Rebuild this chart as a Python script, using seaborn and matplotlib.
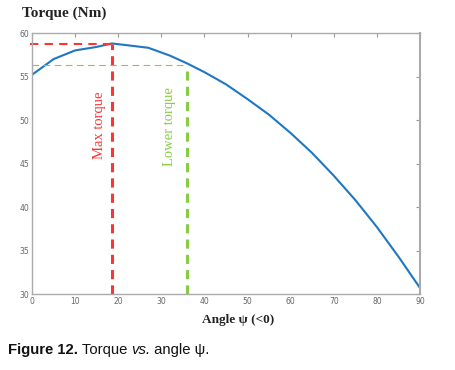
import matplotlib
matplotlib.use("Agg")
import matplotlib.pyplot as plt
import seaborn as sns
import pandas as pd

angle = [0, 5, 10, 15, 18.5, 22, 27, 32, 36, 40, 45, 50, 55, 60, 65, 70, 75, 80, 85, 90]
torque = [55.2, 57.0, 58.0, 58.4, 58.8, 58.6, 58.3, 57.4, 56.5, 55.5, 54.1, 52.4, 50.6, 48.5, 46.2, 43.6, 40.8, 37.7, 34.3, 30.7]
max_angle, max_torque = 18.5, 58.7
low_angle, low_torque = 36, 56.3
xticks = [0, 10, 20, 30, 40, 50, 60, 70, 80, 90]
yticks = [30, 35, 40, 45, 50, 55, 60]

sns.set_theme(style="white")
df = pd.DataFrame({"angle": angle, "torque": torque})

fig = plt.figure(figsize=(4.56, 3.70), dpi=100)
ax = fig.add_axes([0.0702, 0.2054, 0.8508, 0.7054])
sns.lineplot(data=df, x="angle", y="torque", ax=ax, color="#1f77c4", linewidth=1.5)

ax.set_xlim(0, 90)
ax.set_ylim(30, 60)
ax.set_xticks(xticks)
ax.set_yticks(yticks)
ax.tick_params(direction="in", length=3, width=0.8, color="#999999",
               labelsize=5.5, labelcolor="#666666", top=True, right=True, pad=2)
for s in ax.spines.values():
    s.set_color("#aaaaaa")
    s.set_linewidth(1.0)
ax.spines["right"].set_linewidth(1.5)
ax.set_xlabel("")
ax.set_ylabel("")

# Max torque markers
ax.plot([max_angle, max_angle], [30, max_torque], color="#ff3333", ls=(0, (3, 2)), lw=2.2, clip_on=False)
ax.plot([-0.5, max_angle], [max_torque, max_torque], color="#ff3333", ls=(0, (4, 3)), lw=1.5, clip_on=False)
# Lower torque markers
ax.plot([low_angle, low_angle], [30, low_torque], color="#88cc44", ls=(0, (3, 2)), lw=2.2)
ax.plot([0, low_angle], [low_torque, low_torque], color="#88cc44", ls=(0, (6, 4)), lw=0.8)

ax.text(15.6, 49.4, "Max torque", rotation=90, color="#ff3333", fontsize=10.5,
        family="Liberation Serif", ha="center", va="center")
ax.text(31.9, 49.2, "Lower torque", rotation=90, color="#88cc44", fontsize=10.5,
        family="Liberation Serif", ha="center", va="center")

fig.text(22 / 456, 1 - 13 / 370, "Torque (Nm)", family="Liberation Serif", fontsize=11,
         fontweight="bold", ha="left", va="center", color="#222222")
fig.text(238 / 456, 1 - 320 / 370, "Angle ψ (<0)", family="Liberation Serif", fontsize=9.5,
         fontweight="bold", ha="center", va="center", color="#222222")

# Caption with mixed styles
fig.canvas.draw()
renderer = fig.canvas.get_renderer()
x0 = 8 / 456
yc = 1 - 350 / 370
parts = [("Figure 12.", "bold", "normal"), (" Torque ", "normal", "normal"),
         ("vs.", "normal", "italic"), (" angle ψ.", "normal", "normal")]
for txt, w, st in parts:
    t = fig.text(x0, yc, txt, family="Liberation Sans", fontsize=10.7, fontweight=w,
                 fontstyle=st, ha="left", va="center", color="#111111")
    bb = t.get_window_extent(renderer=renderer)
    x0 += bb.width / fig.bbox.width

fig.savefig("out.png", dpi=100)
